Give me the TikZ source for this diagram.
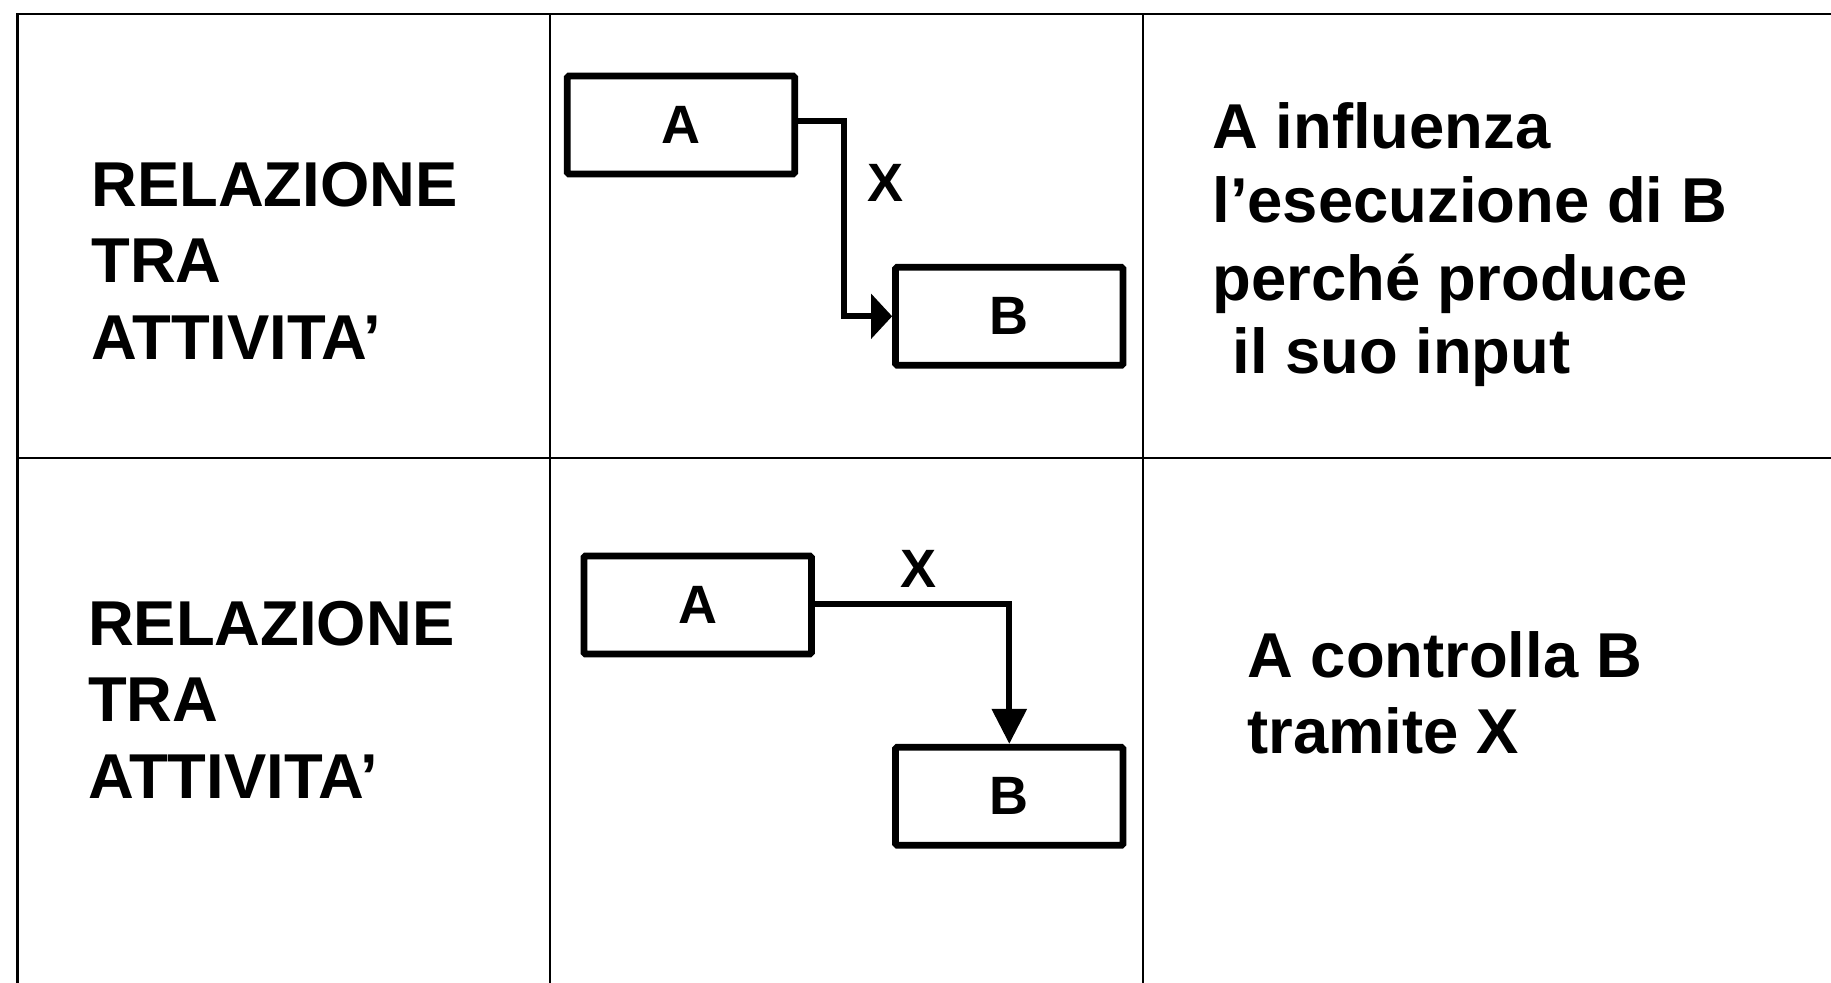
\documentclass[tikz,border=0pt]{standalone}
\usepackage{fontspec}
\setmainfont{Liberation Sans}
\usetikzlibrary{arrows.meta}
\begin{document}
\begin{tikzpicture}[x=0.5pt,y=-0.5pt,
  grid/.style={line width=1.3pt,black},
  box/.style={draw,line width=3.4pt,rounded corners=0.8pt,minimum width=113.75pt,minimum height=49pt,inner sep=0pt,font=\fontsize{27}{32}\selectfont\bfseries},
  lbl/.style={inner sep=0pt,font=\fontsize{27}{32}\selectfont\bfseries},
  txt/.style={anchor=base west,inner sep=0pt,font=\fontsize{31.7}{38}\selectfont\bfseries},
  conn/.style={line width=3pt}]
\useasboundingbox (0,0) rectangle (1831,983);
\fill[white] (0,0) rectangle (1831,983);
% table
\draw[grid] (17.5,983) -- (17.5,14) -- (1831,14);
\draw[grid] (17.5,458) -- (1831,458);
\draw[grid] (550,14) -- (550,983);
\draw[grid] (1143,14) -- (1143,983);
% left column
\node[txt] (l1a) at (91,206.7) {RELAZIONE};
\node[txt] (l1b) at (91,282.6) {TRA};
\node[txt] (l1c) at (91,359.6) {ATTIVITA’};
\node[txt] (l2a) at (87.6,645.7) {RELAZIONE};
\node[txt] (l2b) at (87.6,721.6) {TRA};
\node[txt] (l2c) at (87.6,798.7) {ATTIVITA’};
% top diagram
\node[box] (A1) at (681,125) {A};
\node[box] (B1) at (1009.3,316.3) {B};
\coordinate (k1) at (844,121.4);
\draw[conn,-{Triangle[length=10.5pt,width=22pt]}] (A1.east |- k1) -- (k1) |- (B1.west);
\node[lbl] (X1) at (885,183) {X};
% bottom diagram
\node[box] (A2) at (697.7,605) {A};
\node[box] (B2) at (1009.3,796.3) {B};
\coordinate (k2) at (1009.3,603.7);
\draw[conn,-{Triangle[length=17.5pt,width=17pt]}] (A2.east |- k2) -- (k2) -- (B2.north);
\node[lbl] (X2) at (918,568.7) {X};
% right column
\node[txt] (r1a) at (1212,148.3) {A influenza};
\node[txt] (r1b) at (1212,223) {l’esecuzione di B};
\node[txt] (r1c) at (1212,301) {perché produce};
\node[txt] (r1d) at (1232,373.7) {il suo input};
\node[txt] (r2a) at (1247,677) {A controlla B};
\node[txt] (r2b) at (1247,753) {tramite X};
\end{tikzpicture}
\end{document}
